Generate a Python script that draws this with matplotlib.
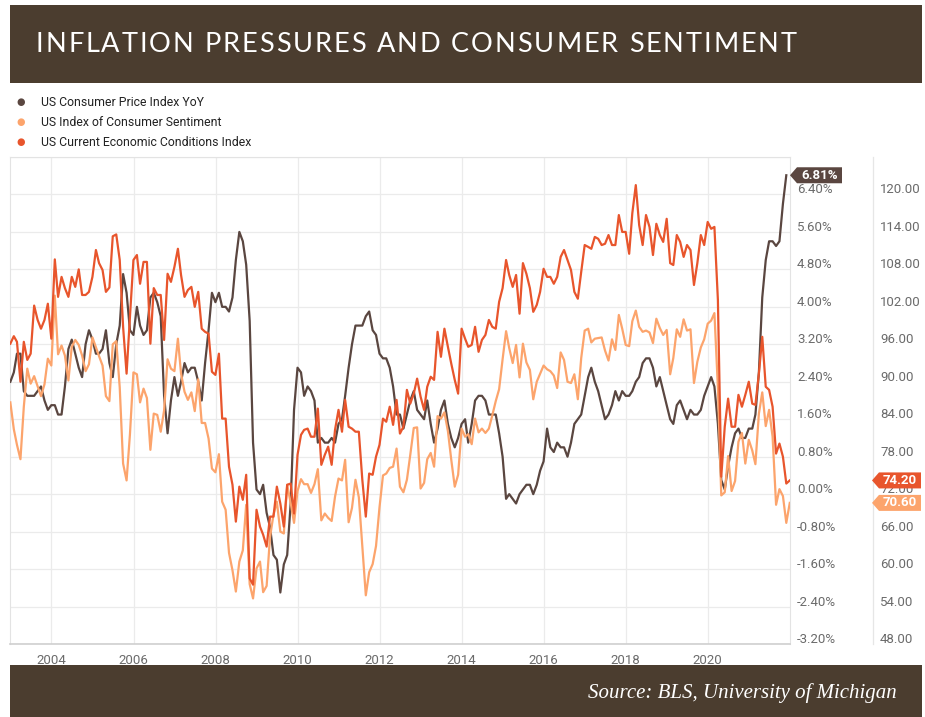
import matplotlib
matplotlib.use("Agg")
import matplotlib.pyplot as plt
from matplotlib.patches import Rectangle, Polygon
from matplotlib import font_manager, ft2font
import pandas as pd

W, H = 925, 717

BANNER = "#4b3d2f"
CPI_COLOR = "#5a4640"
SENT_COLOR = "#fca46c"
CURR_COLOR = "#e8552c"
GRID = "#ebebeb"
TICK = "#6b6b6b"

TITLE = "INFLATION PRESSURES AND CONSUMER SENTIMENT"
SOURCE = "Source: BLS, University of Michigan"
LEGEND_LABELS = ["US Consumer Price Index YoY",
                 "US Index of Consumer Sentiment",
                 "US Current Economic Conditions Index"]

# monthly, Dec 2002 .. Nov 2021 (%)
cpi_yoy = [
    2.4,
    2.6, 3.0, 3.0, 2.2, 2.1, 2.1, 2.1, 2.2, 2.3, 2.0, 1.8, 1.9,
    1.9, 1.7, 1.7, 2.3, 3.1, 3.3, 3.0, 2.7, 2.5, 3.2, 3.5, 3.3,
    3.0, 3.0, 3.1, 3.5, 2.8, 2.5, 3.2, 3.6, 4.7, 4.3, 3.5, 3.4,
    4.0, 3.6, 3.4, 3.5, 4.2, 4.3, 4.1, 3.8, 2.1, 1.3, 2.0, 2.5,
    2.1, 2.4, 2.8, 2.6, 2.7, 2.7, 2.4, 2.0, 2.8, 3.5, 4.3, 4.1,
    4.3, 4.0, 4.0, 3.9, 4.2, 5.0, 5.6, 5.4, 4.9, 3.7, 1.1, 0.1,
    0.0, 0.2, -0.4, -0.7, -1.3, -1.4, -2.1, -1.5, -1.3, -0.2, 1.8, 2.7,
    2.6, 2.1, 2.3, 2.2, 2.0, 1.1, 1.2, 1.1, 1.1, 1.2, 1.1, 1.5,
    1.6, 2.1, 2.7, 3.2, 3.6, 3.6, 3.6, 3.8, 3.9, 3.5, 3.4, 3.0,
    2.9, 2.9, 2.7, 2.3, 1.7, 1.7, 1.4, 1.7, 2.0, 2.2, 1.8, 1.7,
    1.6, 2.0, 1.5, 1.1, 1.4, 1.8, 2.0, 1.5, 1.2, 1.0, 1.2, 1.5,
    1.6, 1.1, 1.5, 2.0, 2.1, 2.1, 2.0, 1.7, 1.7, 1.7, 1.3, 0.8,
    -0.1, 0.0, -0.1, -0.2, 0.0, 0.1, 0.2, 0.2, 0.0, 0.2, 0.5, 0.7,
    1.4, 1.0, 0.9, 1.1, 1.0, 1.0, 0.8, 1.1, 1.5, 1.6, 1.7, 2.1,
    2.5, 2.7, 2.4, 2.2, 1.9, 1.6, 1.7, 1.9, 2.2, 2.0, 2.2, 2.1,
    2.1, 2.2, 2.4, 2.5, 2.8, 2.9, 2.9, 2.7, 2.3, 2.5, 2.2, 1.9,
    1.6, 1.5, 1.9, 2.0, 1.8, 1.6, 1.8, 1.7, 1.7, 1.8, 2.1, 2.3,
    2.5, 2.3, 1.5, 0.3, 0.1, 0.6, 1.0, 1.3, 1.4, 1.2, 1.2, 1.4,
    1.4, 1.7, 2.6, 4.2, 5.0, 5.4, 5.4, 5.3, 5.4, 6.2, 6.81,
]

# monthly, Dec 2002 .. Dec 2021
sentiment = [
    86.7,
    82.4, 79.9, 77.6, 86.0, 92.1, 89.7, 90.9, 89.3, 87.7, 89.6, 93.7, 92.6,
    103.8, 94.4, 95.8, 94.2, 90.2, 95.6, 96.7, 95.9, 94.2, 91.7, 92.8, 97.1,
    95.5, 94.1, 92.6, 87.7, 86.9, 96.0, 96.5, 89.1, 76.9, 74.2, 81.6, 91.5,
    91.2, 86.7, 88.9, 87.4, 79.1, 84.9, 84.7, 82.0, 85.4, 93.6, 92.1, 91.7,
    96.9, 91.3, 88.4, 87.1, 88.3, 85.3, 90.4, 83.4, 83.4, 80.9, 76.1, 75.5,
    78.4, 70.8, 69.5, 62.6, 59.8, 56.4, 61.2, 63.0, 70.3, 57.6, 55.3, 60.1,
    61.2, 56.3, 57.3, 65.1, 68.7, 70.8, 66.0, 65.7, 73.5, 70.6, 67.4, 72.5,
    74.4, 73.6, 73.6, 72.2, 73.6, 76.0, 67.8, 68.9, 68.2, 67.7, 71.6, 74.5,
    74.2, 77.5, 67.5, 69.8, 74.3, 71.5, 63.7, 55.8, 59.5, 60.8, 63.7, 69.9,
    75.0, 75.3, 76.2, 76.4, 79.3, 73.2, 72.3, 74.3, 78.3, 82.6, 82.7, 72.9,
    73.8, 77.6, 78.6, 76.4, 84.5, 84.1, 85.1, 82.1, 77.5, 73.2, 75.1, 82.5,
    81.2, 81.6, 80.0, 84.1, 81.9, 82.5, 81.8, 82.5, 84.6, 86.9, 88.8, 93.6,
    98.1, 95.4, 93.0, 95.9, 90.7, 96.1, 93.1, 91.9, 87.2, 90.0, 91.3, 92.6,
    92.0, 91.7, 91.0, 89.0, 94.7, 93.5, 90.0, 89.8, 91.2, 87.2, 93.8, 98.2,
    98.5, 96.3, 96.9, 97.0, 97.1, 95.0, 93.4, 96.8, 95.1, 100.7, 98.5, 95.9,
    95.7, 99.7, 101.4, 98.8, 98.0, 98.2, 97.9, 96.2, 100.1, 98.6, 97.5, 98.3,
    91.2, 93.8, 98.4, 97.2, 100.0, 98.2, 98.4, 89.8, 93.2, 95.5, 96.8, 99.3,
    99.8, 101.0, 89.1, 71.8, 72.3, 78.1, 72.5, 74.1, 80.4, 81.8, 76.9, 80.7,
    79.0, 76.8, 84.9, 88.3, 82.9, 85.5, 81.2, 70.3, 72.8, 71.7, 67.4, 70.6,
]

# monthly, Dec 2002 .. Dec 2021
current_cond = [
    96.1, 97.3, 96.4, 90.0, 96.4, 93.5, 94.5, 102.2, 99.9, 98.5, 99.9, 102.5,
    96.9, 109.6, 103.6, 106.8, 105.0, 103.6, 106.8, 105.2, 108.0, 103.9, 103.9, 104.4,
    106.8, 111.1, 109.0, 107.9, 104.4, 105.1, 113.3, 113.6, 109.5, 98.8, 91.3, 100.4,
    109.5, 110.3, 105.7, 109.2, 109.2, 96.1, 105.0, 103.9, 103.9, 96.7, 107.3, 106.0,
    108.4, 111.3, 107.1, 103.6, 104.7, 105.2, 102.0, 104.4, 98.5, 98.0, 97.7,
    91.6, 91.1, 94.5, 84.1, 84.1, 76.4, 73.5, 67.6, 73.2, 71.1, 75.1, 58.5,
    57.5, 69.5, 66.8, 65.5, 63.6, 68.4, 68.4, 73.2, 70.5, 66.8, 73.5, 73.7,
    68.9, 78.3, 81.5, 82.3, 82.5, 81.2, 81.2, 85.7, 76.7, 78.3, 79.6, 76.7,
    82.3, 85.5, 82.0, 87.1, 82.8, 82.5, 82.0, 82.0, 74.3, 68.4, 75.3, 75.1,
    78.0, 79.9, 84.1, 83.6, 86.0, 83.1, 87.1, 81.7, 82.8, 88.7, 86.5,
    88.1, 90.5, 87.6, 85.5, 89.2, 90.8, 90.3, 98.0, 94.0, 98.5, 95.6, 92.9,
    90.3, 88.1, 98.5, 96.9, 95.6, 95.9, 98.8, 94.8, 96.7, 97.5, 99.9, 98.8,
    98.5, 102.8, 105.0, 109.5, 107.1, 105.2, 107.1, 100.9, 109.0, 107.3, 105.0, 101.2,
    102.3, 104.4, 108.1, 106.8, 106.8, 105.7, 106.8, 110.0, 111.1, 109.5, 107.9, 104.4,
    103.3, 107.6, 111.9, 111.6, 111.3, 113.2, 112.9, 111.9, 112.1, 113.5,
    111.9, 111.9, 116.7, 114.0, 114.0, 110.5, 117.0, 121.5, 115.1, 111.9, 116.7, 114.8,
    110.3, 115.3, 113.5, 112.4, 116.1, 109.0, 108.7, 113.5, 112.4, 110.0, 111.9, 111.1,
    105.5, 109.0, 113.5, 111.9, 115.6, 114.5, 114.8, 103.1, 74.8, 82.8, 87.3, 82.8,
    82.8, 87.9, 86.0, 87.9, 90.0, 86.5, 86.3, 91.3, 97.2, 89.2, 88.7, 86.0,
    78.5, 80.1, 78.0, 73.7, 74.2,
]

x_years = [2004, 2006, 2008, 2010, 2012, 2014, 2016, 2018, 2020]
cpi_ticks = [-3.2, -2.4, -1.6, -0.8, 0.0, 0.8, 1.6, 2.4, 3.2, 4.0, 4.8, 5.6, 6.4]
sent_ticks = [48, 54, 60, 66, 72, 78, 84, 90, 96, 102, 108, 114, 120]


def px(x, y):
    # pixel (from top-left) -> figure fraction
    return x / W, 1 - y / H


def tracked_text(fig, x0, x1, baseline, text, size, family, color):
    # letter-spaced text spread between x0 and x1 (pixels)
    fp = font_manager.FontProperties(family=family, size=size)
    font = ft2font.FT2Font(font_manager.findfont(fp))
    font.set_size(size, 100)
    adv = []
    for c in text:
        g = font.load_char(ord(c))
        adv.append(g.linearHoriAdvance / 65536)
    natural = sum(adv[:-1]) + adv[-1] * 0.9
    track = (x1 - x0 - natural) / (len(text) - 1)
    x = x0
    for c, a in zip(text, adv):
        if c != " ":
            fig.text(x / W, 1 - baseline / H, c, color=color, fontproperties=fp,
                     ha="left", va="baseline")
        x += a + track


def badge(fig, x_tip, y_pix, width, text, color):
    h, tip = 16, 7
    yb = H - y_pix
    pts = [(x_tip, yb), (x_tip + tip, yb + h / 2), (x_tip + width, yb + h / 2),
           (x_tip + width, yb - h / 2), (x_tip + tip, yb - h / 2)]
    pts = [(a / W, b / H) for a, b in pts]
    fig.patches.append(Polygon(pts, closed=True, facecolor=color, edgecolor="none",
                               transform=fig.transFigure, zorder=10))
    fig.text((x_tip + tip + (width - tip) / 2) / W, yb / H, text, color="white",
             fontsize=9.5, fontweight="bold", family="Roboto",
             ha="center", va="center", zorder=11)


def main():
    fig = plt.figure(figsize=(W / 100, H / 100), dpi=100, facecolor="white")

    # ---- title banner ----
    fig.patches.append(Rectangle(px(10, 83), 912 / W, 78 / H, transform=fig.transFigure,
                                 facecolor=BANNER, edgecolor="none"))
    tracked_text(fig, 36, 795, 52, TITLE, 19.5, "Lato", "white")

    # ---- legend ----
    for i, (lab, col) in enumerate(zip(LEGEND_LABELS, [CPI_COLOR, SENT_COLOR, CURR_COLOR])):
        yy = 102 + 20 * i
        fig.text(*px(16, yy), "\u25CF", color=col, fontsize=7, ha="left", va="center",
                 family="DejaVu Sans")
        fig.text(*px(41, yy), lab, color="#222222", fontsize=8.8, family="Roboto",
                 ha="left", va="center")

    # ---- plot ----
    left, right, top, bottom = 10, 790, 157, 644
    ax = fig.add_axes([left / W, 1 - bottom / H, (right - left) / W, (bottom - top) / H])
    ax2 = ax.twinx()

    dates_long = pd.date_range("2002-12-31", periods=len(sentiment), freq="ME")
    dates_cpi = dates_long[:len(cpi_yoy)]

    ax.plot(dates_cpi, cpi_yoy, color=CPI_COLOR, lw=1.6, zorder=3)
    ax2.plot(dates_long, sentiment, color=SENT_COLOR, lw=1.6, zorder=3)
    ax2.plot(dates_long, current_cond, color=CURR_COLOR, lw=1.6, zorder=4)

    ymin, ymax = -3.2, 7.2
    ax.set_ylim(ymin, ymax)
    ax2.set_ylim(72 + 7.5 * ymin, 72 + 7.5 * ymax)
    ax.set_xlim(pd.Timestamp("2002-12-28"), pd.Timestamp("2022-01-02"))

    ax.set_yticks(cpi_ticks + [7.2])
    ax.set_xticks([pd.Timestamp(f"{y}-01-01") for y in x_years])
    ax.set_xticklabels([str(y) for y in x_years])
    ax.tick_params(axis="x", length=0, pad=7, labelsize=9.5, labelcolor=TICK)
    ax.tick_params(axis="y", length=0, labelleft=False, labelright=False)
    for lab in ax.get_xticklabels():
        lab.set_family("Roboto")
    ax2.set_yticks([])
    ax.grid(True, color=GRID, lw=0.9, zorder=0)
    ax.set_axisbelow(True)
    for s in ["top", "right", "left"]:
        ax.spines[s].set_color("#e3e3e3")
        ax2.spines[s].set_visible(False)
    ax.spines["bottom"].set_color("#cfcfcf")
    ax.spines["bottom"].set_linewidth(1.2)
    ax2.spines["bottom"].set_visible(False)

    # separator between the two right-hand scales
    fig.add_artist(plt.Line2D([873 / W, 873 / W], [1 - bottom / H, 1 - top / H],
                              color="#e6e6e6", lw=0.9, transform=fig.transFigure))

    # right-side scale labels
    for v, s in zip(cpi_ticks, sent_ticks):
        yb = ax.transData.transform((0, v))[1] + 1
        fig.text(797 / W, yb / H, f"{v:.2f}%", color=TICK, fontsize=9.5, family="Roboto",
                 ha="left", va="baseline")
        fig.text(880 / W, yb / H, f"{s:.2f}", color=TICK, fontsize=9.5, family="Roboto",
                 ha="left", va="baseline")

    # last-value badges
    y_cpi = H - ax.transData.transform((0, cpi_yoy[-1]))[1]
    badge(fig, 790, y_cpi, 52, f"{cpi_yoy[-1]:.2f}%", CPI_COLOR)
    y_cur = H - ax2.transData.transform((0, current_cond[-1]))[1]
    badge(fig, 872, y_cur, 49, f"{current_cond[-1]:.2f}", CURR_COLOR)
    y_sen = H - ax2.transData.transform((0, sentiment[-1]))[1]
    badge(fig, 872, y_sen, 49, f"{sentiment[-1]:.2f}", SENT_COLOR)

    # ---- source banner ----
    fig.patches.append(Rectangle(px(10, 717), 912 / W, 52 / H, transform=fig.transFigure,
                                 facecolor=BANNER, edgecolor="none"))
    fig.text(*px(897, 698), SOURCE, color="white", fontsize=15, family="Liberation Serif",
             style="italic", ha="right", va="baseline")

    fig.savefig("out.png", dpi=100, facecolor="white")
    plt.close(fig)


if __name__ == "__main__":
    main()
